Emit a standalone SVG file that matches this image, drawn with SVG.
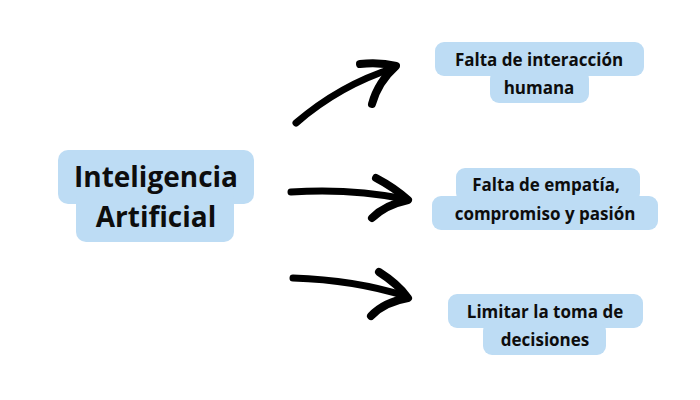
<svg xmlns="http://www.w3.org/2000/svg" width="700" height="400" viewBox="0 0 700 400">
<style>
.b{fill:#bddcf4}
.t{font-family:"Open Sans","Liberation Sans",sans-serif;font-weight:bold;fill:#0d0d0d;text-anchor:middle}
.s{font-size:17px}
.m{font-size:28px}
.a{fill:none;stroke:#000;stroke-linecap:round;stroke-linejoin:round}
</style>
<rect width="700" height="400" fill="#fff"/>
<g id="main">
<rect class="b" x="58" y="150" width="196" height="54" rx="10"/>
<rect class="b" x="76" y="190" width="158" height="52" rx="10"/>
<text class="t m" x="156" y="187">Inteligencia</text>
<text class="t m" x="156" y="227">Artificial</text>
</g>
<g id="n1">
<rect class="b" x="435" y="42" width="209" height="34" rx="9"/>
<rect class="b" x="490" y="70" width="99" height="33" rx="9"/>
<text class="t s" x="539" y="66">Falta de interacción</text>
<text class="t s" x="539" y="94">humana</text>
</g>
<g id="n2">
<rect class="b" x="456" y="168" width="184" height="34" rx="9"/>
<rect class="b" x="432" y="196" width="226" height="34" rx="9"/>
<text class="t s" x="546" y="191">Falta de empatía,</text>
<text class="t s" x="545" y="220">compromiso y pasión</text>
</g>
<g id="n3">
<rect class="b" x="448" y="294" width="195" height="34" rx="9"/>
<rect class="b" x="483" y="322" width="123" height="33" rx="9"/>
<text class="t s" x="545" y="318">Limitar la toma de</text>
<text class="t s" x="545" y="346">decisiones</text>
</g>
<g id="connectors">
<path class="a" stroke-width="7" d="M296 123 Q340 85 394 68"/>
<path class="a" stroke-width="8" d="M360 64 Q380 62 396 66 Q378 82 372 104"/>
<path class="a" stroke-width="7" d="M291 192 Q350 188 405 199"/>
<path class="a" stroke-width="8" d="M376 178 Q395 188 408 200 Q385 205 372 218"/>
<path class="a" stroke-width="7" d="M293 278 Q355 280 405 296"/>
<path class="a" stroke-width="8" d="M379 272 Q398 284 408 298 Q384 302 371 316"/>
</g>
</svg>
